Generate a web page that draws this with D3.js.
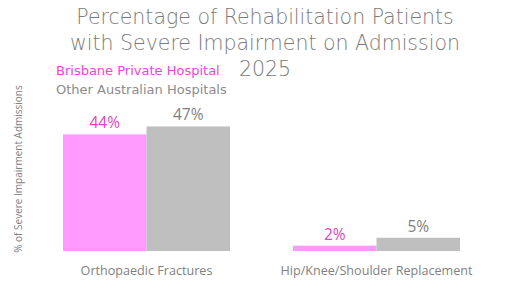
<!DOCTYPE html>
<html>
<head>
<meta charset="utf-8">
<script src="https://cdn.jsdelivr.net/npm/d3@7"></script>
<style>
  body { margin: 0; background: #fff; }
  svg { display: block; }
  .title { font-family: "DejaVu Sans", sans-serif; font-weight: 300; fill: #7a7a7a; }
  .legend { font-family: "DejaVu Sans", sans-serif; font-size: 13px; }
  .val { font-family: "Open Sans", sans-serif; font-size: 15.5px; text-anchor: middle; }
  .cat { font-family: "Open Sans", sans-serif; font-size: 12.6px; fill: #7f7f7f; text-anchor: middle; }
  .ytitle { font-family: "Open Sans", sans-serif; font-size: 10px; fill: #808080; text-anchor: middle; }
</style>
</head>
<body>
<div class="chart"></div>
<script>
const categories = ["Orthopaedic Fractures", "Hip/Knee/Shoulder Replacement"]
const seriesNames = ["Brisbane Private Hospital", "Other Australian Hospitals"]
const brisbane = [44, 2]
const otherHospitals = [47, 5]
const titleLines = ["Percentage of Rehabilitation Patients", "with Severe Impairment on Admission", "2025"]
const yTitle = "% of Severe Impairment Admissions"

const width = 529
const height = 292

const barColors = ["#ff99ff", "#bfbfbf"]
const labelColors = ["#e443c4", "#7f7f7f"]
const legendColors = ["#e247e0", "#8c8c8c"]

const svg = d3.select(".chart").append("svg")
    .attr("width", width)
    .attr("height", height)

// title
svg.selectAll("text.title")
    .data(titleLines)
    .enter()
    .append("text")
    .attr("class", "title")
    .attr("x", 265)
    .attr("y", (d, i) => 24 + i * 26)
    .attr("text-anchor", "middle")
    .style("font-size", "20.5px")
    .text(d => d)

// legend
svg.selectAll("text.legend")
    .data(seriesNames)
    .enter()
    .append("text")
    .attr("class", "legend")
    .attr("x", 56)
    .attr("y", (d, i) => 75 + i * 19)
    .attr("fill", (d, i) => legendColors[i])
    .text(d => d)

const baseline = 251

const x0 = d3.scaleBand()
    .domain(categories)
    .range([31.5, 491.5])
    .paddingInner(0.274)
    .paddingOuter(0.137)

const x1 = d3.scaleBand()
    .domain([0, 1])
    .range([0, x0.bandwidth()])

const y = d3.scaleLinear()
    .domain([0, 50])
    .range([baseline, baseline - 132.5])

const rows = categories.map((c, i) => ({
    category: c,
    values: [brisbane[i], otherHospitals[i]]
}))

const groups = svg.selectAll("g.group")
    .data(rows)
    .enter()
    .append("g")
    .attr("transform", d => "translate(" + x0(d.category) + ",0)")

groups.selectAll("rect")
    .data(d => d.values)
    .enter()
    .append("rect")
    .attr("x", (d, i) => x1(i))
    .attr("y", d => y(d))
    .attr("width", x1.bandwidth())
    .attr("height", d => baseline - y(d))
    .attr("fill", (d, i) => barColors[i])

groups.selectAll("text.val")
    .data(d => d.values)
    .enter()
    .append("text")
    .attr("class", "val")
    .attr("x", (d, i) => x1(i) + x1.bandwidth() / 2)
    .attr("y", d => y(d) - 6)
    .attr("fill", (d, i) => labelColors[i])
    .text(d => d + "%")

// category labels
svg.selectAll("text.cat")
    .data(categories)
    .enter()
    .append("text")
    .attr("class", "cat")
    .attr("x", d => x0(d) + x0.bandwidth() / 2)
    .attr("y", 275)
    .text(d => d)

svg.append("text")
    .attr("class", "ytitle")
    .attr("transform", "translate(22,169) rotate(-90)")
    .text(yTitle)
</script>
</body>
</html>
